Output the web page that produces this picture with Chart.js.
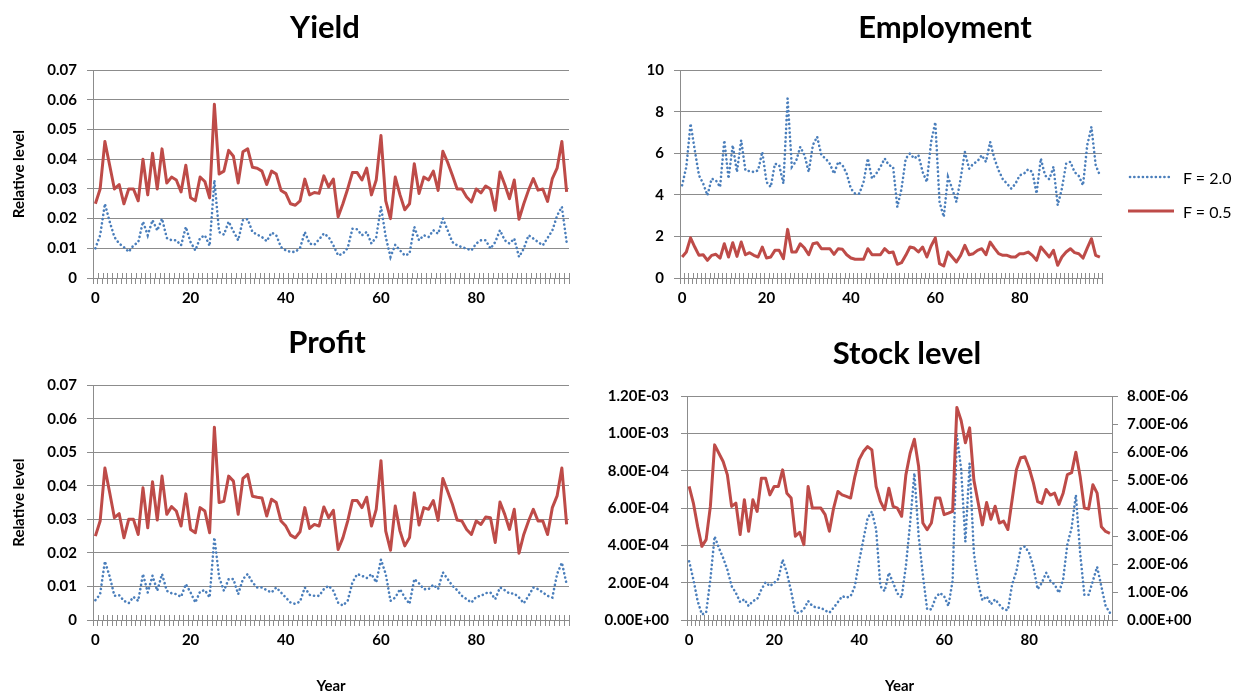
<!DOCTYPE html>
<html>
<head>
<meta charset="utf-8">
<script src="https://cdn.jsdelivr.net/npm/chart.js@4.4.1/dist/chart.umd.min.js"></script>
<style>
  html, body { margin:0; padding:0; background:#fff; width:1242px; height:695px; overflow:hidden; }
  canvas { position:absolute; }
  #legend { position:absolute; left:1128px; top:160px; font-family:Lato, sans-serif; font-size:16px; color:#000; }
  #legend .row { height:34px; display:flex; align-items:center; }
  #legend svg { margin-right:9px; }
</style>
</head>
<body>
<canvas id="cYield" width="650" height="308" style="left:0px;top:0px"></canvas>
<canvas id="cEmp" width="594" height="308" style="left:648px;top:0px"></canvas>
<canvas id="cProfit" width="654" height="380" style="left:0px;top:315px"></canvas>
<canvas id="cStock" width="622" height="369" style="left:596px;top:326px"></canvas>
<div id="legend">
  <div class="row"><svg width="46" height="8"><line x1="2" y1="4" x2="44" y2="4" stroke="#4A7EBB" stroke-width="2.6" stroke-dasharray="0.1 4.2" stroke-linecap="round"/></svg><span>F = 2.0</span></div>
  <div class="row"><svg width="46" height="8"><line x1="0" y1="4" x2="46" y2="4" stroke="#BE4B48" stroke-width="3"/></svg><span>F = 0.5</span></div>
</div>
<script>
// ---------- categories and tick labels ----------
const years = Array.from({length: 100}, (_, i) => i);
const xTickLabels = ['0', '20', '40', '60', '80'];
const legendLabels = ['F = 2.0', 'F = 0.5'];

const yieldTicks = [0, 0.01, 0.02, 0.03, 0.04, 0.05, 0.06, 0.07];
const profitTicks = [0, 0.01, 0.02, 0.03, 0.04, 0.05, 0.06, 0.07];
const employmentTicks = [0, 2, 4, 6, 8, 10];
const stockTicksLeft = [0, 2e-4, 4e-4, 6e-4, 8e-4, 1e-3, 1.2e-3];
const stockTicksRight = [0, 1e-6, 2e-6, 3e-6, 4e-6, 5e-6, 6e-6, 7e-6, 8e-6];

// ---------- series values ----------
const yieldF20 = [
  0.010,0.0144,0.025,0.019,0.0138,0.0116,0.0104,0.0088,0.011,0.012,
  0.019,0.0144,0.0195,0.016,0.020,0.0135,0.0127,0.0127,0.011,0.0172,
  0.0121,0.0093,0.0135,0.0144,0.0108,0.033,0.0155,0.0146,0.019,0.0157,
  0.0127,0.0195,0.0198,0.0155,0.0146,0.0138,0.0124,0.0153,0.0144,0.0104,
  0.0093,0.0088,0.0088,0.0101,0.0155,0.0116,0.0112,0.013,0.015,0.0138,
  0.011,0.0076,0.0082,0.0101,0.0166,0.0164,0.0144,0.0155,0.0116,0.0138,
  0.024,0.0138,0.0071,0.0112,0.0093,0.0076,0.0082,0.0172,0.0127,0.0144,
  0.0138,0.0161,0.0149,0.020,0.0161,0.0121,0.011,0.0104,0.0099,0.0093,
  0.0116,0.0127,0.0127,0.0099,0.0121,0.0161,0.0127,0.0116,0.0133,0.0071,
  0.0099,0.0144,0.0133,0.0121,0.011,0.0135,0.016,0.021,0.024,0.012
];
const yieldF05 = [
  0.025,0.030,0.046,0.038,0.030,0.0315,0.025,0.030,0.030,0.026,
  0.040,0.028,0.042,0.030,0.0435,0.032,0.034,0.033,0.029,0.038,
  0.027,0.026,0.034,0.0325,0.027,0.0585,0.035,0.036,0.043,0.041,
  0.032,0.0425,0.0435,0.0373,0.037,0.036,0.0315,0.036,0.035,0.0295,
  0.0285,0.025,0.0245,0.026,0.0333,0.028,0.0288,0.0285,0.0344,0.0307,
  0.0333,0.0206,0.025,0.030,0.0355,0.0355,0.033,0.037,0.028,0.033,
  0.048,0.026,0.020,0.034,0.028,0.023,0.025,0.0385,0.0285,0.034,
  0.033,0.036,0.0295,0.0427,0.039,0.0346,0.030,0.030,0.0273,0.0256,
  0.030,0.0287,0.031,0.030,0.0228,0.0357,0.0315,0.0267,0.033,0.0198,
  0.025,0.0296,0.0335,0.0296,0.030,0.0258,0.0335,0.037,0.046,0.029
];
const employmentF20 = [
  4.46,5.35,7.43,6.15,4.94,4.54,3.98,4.78,4.70,4.38,
  6.63,4.78,6.39,5.10,6.63,5.18,5.14,5.10,5.18,6.07,
  4.62,4.38,5.5,5.43,4.54,8.64,5.35,5.62,6.31,5.91,
  5.10,6.4,6.8,5.91,5.75,5.5,5.02,5.59,5.43,5.02,
  4.30,4.06,4.06,4.62,5.75,4.78,5.02,5.35,5.75,5.43,
  5.35,3.42,4.30,5.75,5.99,5.75,5.91,5.10,4.62,6.55,
  7.5,3.66,2.94,4.86,4.30,3.66,4.78,6.07,5.26,5.5,
  5.62,5.91,5.59,6.55,5.75,5.18,4.75,4.54,4.30,4.54,
  4.94,5.02,5.23,5.10,4.06,5.75,4.94,4.75,5.35,3.50,
  4.30,5.50,5.59,5.10,4.91,4.46,6.39,7.27,5.43,4.94
];
const employmentF05 = [
  1.01,1.25,1.93,1.49,1.09,1.12,0.85,1.09,1.14,0.96,
  1.65,1.01,1.70,1.04,1.73,1.12,1.22,1.09,1.01,1.49,
  0.96,1.01,1.33,1.33,0.93,2.34,1.25,1.25,1.65,1.44,
  1.12,1.65,1.70,1.41,1.41,1.41,1.14,1.41,1.38,1.12,
  0.96,0.90,0.90,0.90,1.41,1.12,1.12,1.12,1.41,1.22,
  1.25,0.66,0.74,1.09,1.49,1.44,1.25,1.49,1.01,1.54,
  1.93,0.69,0.58,1.25,1.01,0.77,1.09,1.57,1.12,1.17,
  1.33,1.41,1.12,1.73,1.44,1.17,1.09,1.09,1.01,1.01,
  1.17,1.17,1.25,1.09,0.85,1.49,1.25,1.01,1.33,0.61,
  1.01,1.25,1.41,1.22,1.17,0.96,1.44,1.89,1.09,1.00
];
const profitF20 = [
  0.0059,0.0077,0.0175,0.013,0.0072,0.0074,0.0057,0.005,0.0069,0.0057,
  0.0137,0.0082,0.0132,0.0087,0.0137,0.0087,0.008,0.0077,0.0069,0.0107,
  0.0082,0.0052,0.0085,0.0089,0.0067,0.0246,0.0127,0.0087,0.0122,0.0122,
  0.0077,0.0122,0.0137,0.0112,0.0097,0.0097,0.0089,0.0082,0.0097,0.0082,
  0.0067,0.0052,0.0048,0.0055,0.0097,0.0075,0.0072,0.0072,0.0092,0.0102,
  0.0087,0.0052,0.0043,0.0057,0.0112,0.0137,0.0132,0.0125,0.0137,0.0112,
  0.018,0.0137,0.0057,0.0067,0.0092,0.0067,0.0048,0.0122,0.0109,0.0092,
  0.0092,0.0105,0.0092,0.0142,0.0122,0.0102,0.0089,0.0072,0.0062,0.0052,
  0.0069,0.0072,0.008,0.0082,0.0062,0.0097,0.0089,0.0079,0.0079,0.0067,
  0.005,0.0072,0.0097,0.0092,0.0082,0.0072,0.0067,0.0137,0.0171,0.0107
];
const profitF05 = [
  0.025,0.0295,0.0453,0.038,0.0305,0.0317,0.0245,0.030,0.030,0.0255,
  0.0394,0.0275,0.0412,0.0298,0.0429,0.0315,0.0338,0.0325,0.028,0.0376,
  0.027,0.026,0.0335,0.0325,0.026,0.0575,0.035,0.0354,0.0429,0.0414,
  0.0315,0.0422,0.0434,0.0369,0.0366,0.0364,0.031,0.036,0.035,0.0295,
  0.028,0.0253,0.0245,0.0263,0.0335,0.0273,0.0285,0.028,0.0337,0.0305,
  0.0327,0.021,0.0245,0.0295,0.0356,0.0356,0.0335,0.0366,0.028,0.033,
  0.0475,0.0265,0.0208,0.034,0.0265,0.0221,0.0246,0.0379,0.0283,0.0335,
  0.033,0.0356,0.0297,0.0422,0.0384,0.0345,0.0298,0.0295,0.027,0.0255,
  0.0295,0.0285,0.0307,0.0305,0.0231,0.0352,0.0315,0.027,0.033,0.0199,
  0.0255,0.0295,0.033,0.0295,0.0295,0.0255,0.0335,0.037,0.0453,0.0285
];
const stockF20 = [
  2.10e-6,1.45e-6,0.68e-6,0.20e-6,0.26e-6,1.45e-6,2.99e-6,2.58e-6,2.22e-6,1.80e-6,
  1.21e-6,0.97e-6,0.64e-6,0.74e-6,0.50e-6,0.68e-6,0.74e-6,1.09e-6,1.35e-6,1.21e-6,
  1.33e-6,1.47e-6,2.16e-6,1.69e-6,1.03e-6,0.26e-6,0.26e-6,0.38e-6,0.68e-6,0.50e-6,
  0.44e-6,0.44e-6,0.34e-6,0.26e-6,0.44e-6,0.64e-6,0.85e-6,0.80e-6,0.85e-6,1.21e-6,
  2.10e-6,2.87e-6,3.64e-6,3.88e-6,3.23e-6,1.21e-6,1.03e-6,1.69e-6,1.33e-6,0.95e-6,
  0.80e-6,1.92e-6,3.47e-6,5.25e-6,3.00e-6,1.60e-6,0.38e-6,0.38e-6,0.80e-6,0.97e-6,
  0.85e-6,0.50e-6,1.40e-6,6.60e-6,5.40e-6,2.80e-6,5.60e-6,2.40e-6,1.30e-6,0.70e-6,
  0.85e-6,0.56e-6,0.74e-6,0.55e-6,0.38e-6,0.35e-6,1.27e-6,1.74e-6,2.55e-6,2.63e-6,
  2.40e-6,1.90e-6,1.10e-6,1.33e-6,1.69e-6,1.40e-6,1.27e-6,0.97e-6,1.45e-6,2.70e-6,
  3.30e-6,4.47e-6,2.40e-6,0.90e-6,0.90e-6,1.40e-6,1.90e-6,1.20e-6,0.50e-6,0.26e-6
];
const stockF05 = [
  7.16e-4,6.27e-4,5.02e-4,3.95e-4,4.31e-4,6.09e-4,9.39e-4,8.94e-4,8.50e-4,7.78e-4,
  6.09e-4,6.27e-4,4.58e-4,6.45e-4,4.76e-4,6.45e-4,5.82e-4,7.60e-4,7.60e-4,6.71e-4,
  7.16e-4,7.16e-4,8.05e-4,6.80e-4,6.54e-4,4.49e-4,4.70e-4,4.04e-4,7.16e-4,6.00e-4,
  6.00e-4,6.00e-4,5.65e-4,4.76e-4,6.00e-4,6.89e-4,6.71e-4,6.63e-4,6.54e-4,7.69e-4,
  8.60e-4,9.03e-4,9.30e-4,9.12e-4,7.16e-4,6.36e-4,5.91e-4,7.07e-4,6.09e-4,6.00e-4,
  5.56e-4,7.78e-4,8.94e-4,9.69e-4,8.23e-4,5.20e-4,4.84e-4,5.20e-4,6.54e-4,6.54e-4,
  5.65e-4,5.73e-4,5.82e-4,1.14e-3,1.07e-3,9.50e-4,1.03e-3,7.50e-4,6.30e-4,5.10e-4,
  6.30e-4,5.40e-4,6.10e-4,5.20e-4,5.30e-4,4.85e-4,6.45e-4,8.05e-4,8.70e-4,8.75e-4,
  8.15e-4,7.35e-4,6.35e-4,6.25e-4,7.00e-4,6.70e-4,6.80e-4,6.20e-4,6.80e-4,7.80e-4,
  7.90e-4,9.00e-4,7.70e-4,6.00e-4,5.95e-4,7.25e-4,6.80e-4,5.00e-4,4.75e-4,4.65e-4
];

// ---------- styling helpers ----------
const GRID = '#8c8c8c';
const BLUE = '#4A7EBB';
const RED = '#BE4B48';
const FONT = 'Lato, "Open Sans", sans-serif';
const tickFont = {family: FONT, size: 15, weight: 'bold'};

const fmtPlain = v => String(parseFloat(Number(v).toFixed(4)));
const fmtExp = v => {
  const [m, e] = Number(v).toExponential(2).split('e');
  const n = parseInt(e, 10);
  return m + 'E' + (n < 0 ? '-' : '+') + String(Math.abs(n)).padStart(2, '0');
};

// draws the part of each x tick mark that crosses above the axis (Excel "cross" ticks)
const crossTicks = {
  id: 'crossTicks',
  afterDraw(chart) {
    const x = chart.scales.x;
    const ctx = chart.ctx;
    const n = x.ticks.length;
    ctx.save();
    ctx.strokeStyle = GRID;
    ctx.lineWidth = 1;
    ctx.beginPath();
    for (let i = 0; i <= n; i++) {
      const px = Math.round(x.getPixelForTick(0) + (i - 0.5) * (x.getPixelForTick(1) - x.getPixelForTick(0))) + 0.5;
      ctx.moveTo(px, x.top - 5);
      ctx.lineTo(px, x.top);
    }
    ctx.stroke();
    ctx.restore();
  }
};

function xScale(h, withTitle) {
  return {
    type: 'category',
    offset: true,
    grid: {display: true, offset: true, drawOnChartArea: false, drawTicks: true, tickLength: 6, color: GRID, lineWidth: 1},
    border: {display: true, color: GRID, width: 1},
    ticks: {
      autoSkip: false, maxRotation: 0, minRotation: 0, padding: 5, color: '#000', font: tickFont,
      callback: function(v, i) { const l = String(years[i]); return xTickLabels.includes(l) ? l : ''; }
    },
    title: withTitle
      ? {display: true, text: 'Year', color: '#000', font: {family: FONT, size: 15, weight: 'bold'}, padding: {top: 0, bottom: 0}}
      : {display: false},
    afterFit: s => { s.height = h; }
  };
}

function yScale(tickArr, fmt, width, pad, position, drawGrid, titleText) {
  return {
    type: 'linear',
    position: position,
    min: tickArr[0],
    max: tickArr[tickArr.length - 1],
    afterBuildTicks: s => { s.ticks = tickArr.map(v => ({value: v})); },
    grid: {display: true, drawOnChartArea: drawGrid, drawTicks: true, tickLength: 6, color: GRID, lineWidth: 1},
    border: {display: true, color: GRID, width: 1},
    ticks: {padding: pad, color: '#000', font: tickFont, callback: v => fmt(v)},
    title: titleText
      ? {display: true, text: titleText, color: '#000', font: {family: FONT, size: 15, weight: 'bold'}, padding: {top: 10, bottom: 0}}
      : {display: false},
    afterFit: s => { s.width = width; }
  };
}

function spacer(width) {
  return {
    position: 'right', display: true,
    grid: {display: false}, border: {display: false}, ticks: {display: false},
    afterFit: s => { s.width = width; }
  };
}

function blueSet(data, axis) {
  return {label: legendLabels[0], data, yAxisID: axis, order: 1,
    borderColor: BLUE, backgroundColor: BLUE, borderWidth: 2.6,
    borderDash: [0.1, 4.2], borderCapStyle: 'round', pointRadius: 0, fill: false, tension: 0};
}
function redSet(data, axis) {
  return {label: legendLabels[1], data, yAxisID: axis, order: 0,
    borderColor: RED, backgroundColor: RED, borderWidth: 3,
    borderJoinStyle: 'round', pointRadius: 0, fill: false, tension: 0};
}

function titleOpt(text) {
  return {display: true, text, color: '#000', font: {family: FONT, size: 31, weight: 'bold'}, padding: {top: 9, bottom: 24}};
}

function baseOptions(title, scales) {
  return {
    responsive: false, animation: false, devicePixelRatio: 1,
    layout: {padding: 0},
    plugins: {legend: {display: false}, tooltip: {enabled: false}, title: titleOpt(title)},
    scales
  };
}

// ---------- Yield ----------
new Chart(document.getElementById('cYield'), {
  type: 'line',
  data: {labels: years, datasets: [blueSet(yieldF20, 'y'), redSet(yieldF05, 'y')]},
  options: baseOptions('Yield', {
    x: xScale(30, false),
    y: yScale(yieldTicks, fmtPlain, 93, 10, 'left', true, 'Relative level'),
    yPad: spacer(81)
  }),
  plugins: [crossTicks]
});

// ---------- Employment ----------
new Chart(document.getElementById('cEmp'), {
  type: 'line',
  data: {labels: years, datasets: [blueSet(employmentF20, 'y'), redSet(employmentF05, 'y')]},
  options: baseOptions('Employment', {
    x: xScale(30, false),
    y: yScale(employmentTicks, fmtPlain, 32, 10, 'left', true, null),
    yPad: spacer(140)
  }),
  plugins: [crossTicks]
});

// ---------- Profit ----------
new Chart(document.getElementById('cProfit'), {
  type: 'line',
  data: {labels: years, datasets: [blueSet(profitF20, 'y'), redSet(profitF05, 'y')]},
  options: baseOptions('Profit', {
    x: xScale(75, true),
    y: yScale(profitTicks, fmtPlain, 93, 10, 'left', true, 'Relative level'),
    yPad: spacer(85)
  }),
  plugins: [crossTicks]
});

// ---------- Stock level ----------
new Chart(document.getElementById('cStock'), {
  type: 'line',
  data: {labels: years, datasets: [blueSet(stockF20, 'y2'), redSet(stockF05, 'y')]},
  options: baseOptions('Stock level', {
    x: xScale(75, true),
    y: yScale(stockTicksLeft, fmtExp, 91, 12, 'left', true, null),
    y2: yScale(stockTicksRight, fmtExp, 106, 9, 'right', false, null)
  }),
  plugins: [crossTicks]
});
</script>
</body>
</html>
